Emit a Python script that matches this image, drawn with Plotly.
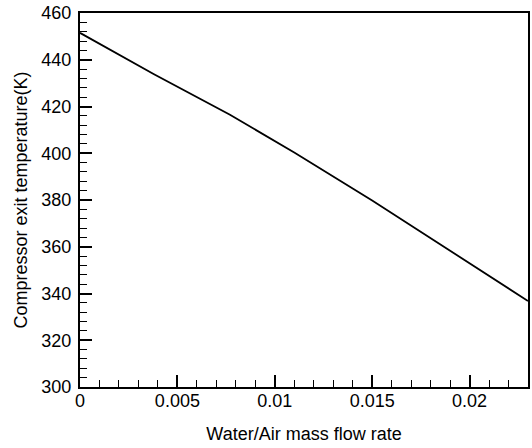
import plotly.graph_objects as go

flow_rate = [0.0, 0.0038, 0.0077, 0.011, 0.015, 0.019, 0.023]
exit_temp = [451.5, 433.8, 416.5, 400.3, 379.8, 358.4, 336.8]

x_tickvals = [0, 0.005, 0.01, 0.015, 0.02]
x_ticktext = ["0", "0.005", "0.01", "0.015", "0.02"]
y_tickvals = [300, 320, 340, 360, 380, 400, 420, 440, 460]

fig = go.Figure()
fig.add_trace(go.Scatter(x=flow_rate, y=exit_temp, mode="lines",
                         line=dict(color="black", width=1.8), showlegend=False))

font = dict(family="Liberation Sans, Arial, sans-serif", size=18, color="black")

fig.update_layout(
    width=532, height=448,
    margin=dict(l=80, r=4, t=13, b=61, autoexpand=False),
    paper_bgcolor="white", plot_bgcolor="white",
    font=font,
)
fig.update_xaxes(
    range=[0, 0.023], tickvals=x_tickvals, ticktext=x_ticktext,
    ticks="inside", ticklen=12, tickwidth=1.5, tickcolor="black",
    minor=dict(dtick=0.001, ticks="inside", ticklen=7, tickwidth=1.2, tickcolor="black"),
    showline=True, linecolor="black", linewidth=2, mirror=True,
    showgrid=False, zeroline=False, automargin=False,
    ticklabelstandoff=-4,
    title=dict(text="Water/Air mass flow rate", font=font, standoff=18),
    tickfont=font,
)
fig.update_yaxes(
    range=[300, 460], tickvals=y_tickvals,
    ticks="inside", ticklen=12, tickwidth=1.5, tickcolor="black",
    minor=dict(dtick=4, ticks="inside", ticklen=7, tickwidth=1.2, tickcolor="black"),
    showline=True, linecolor="black", linewidth=2, mirror=True,
    showgrid=False, zeroline=False, automargin=False,
    ticklabelstandoff=3,
    title=dict(text="Compressor exit temperature(K)", font=font, standoff=9),
    tickfont=font,
)

fig.write_html("out.html")
